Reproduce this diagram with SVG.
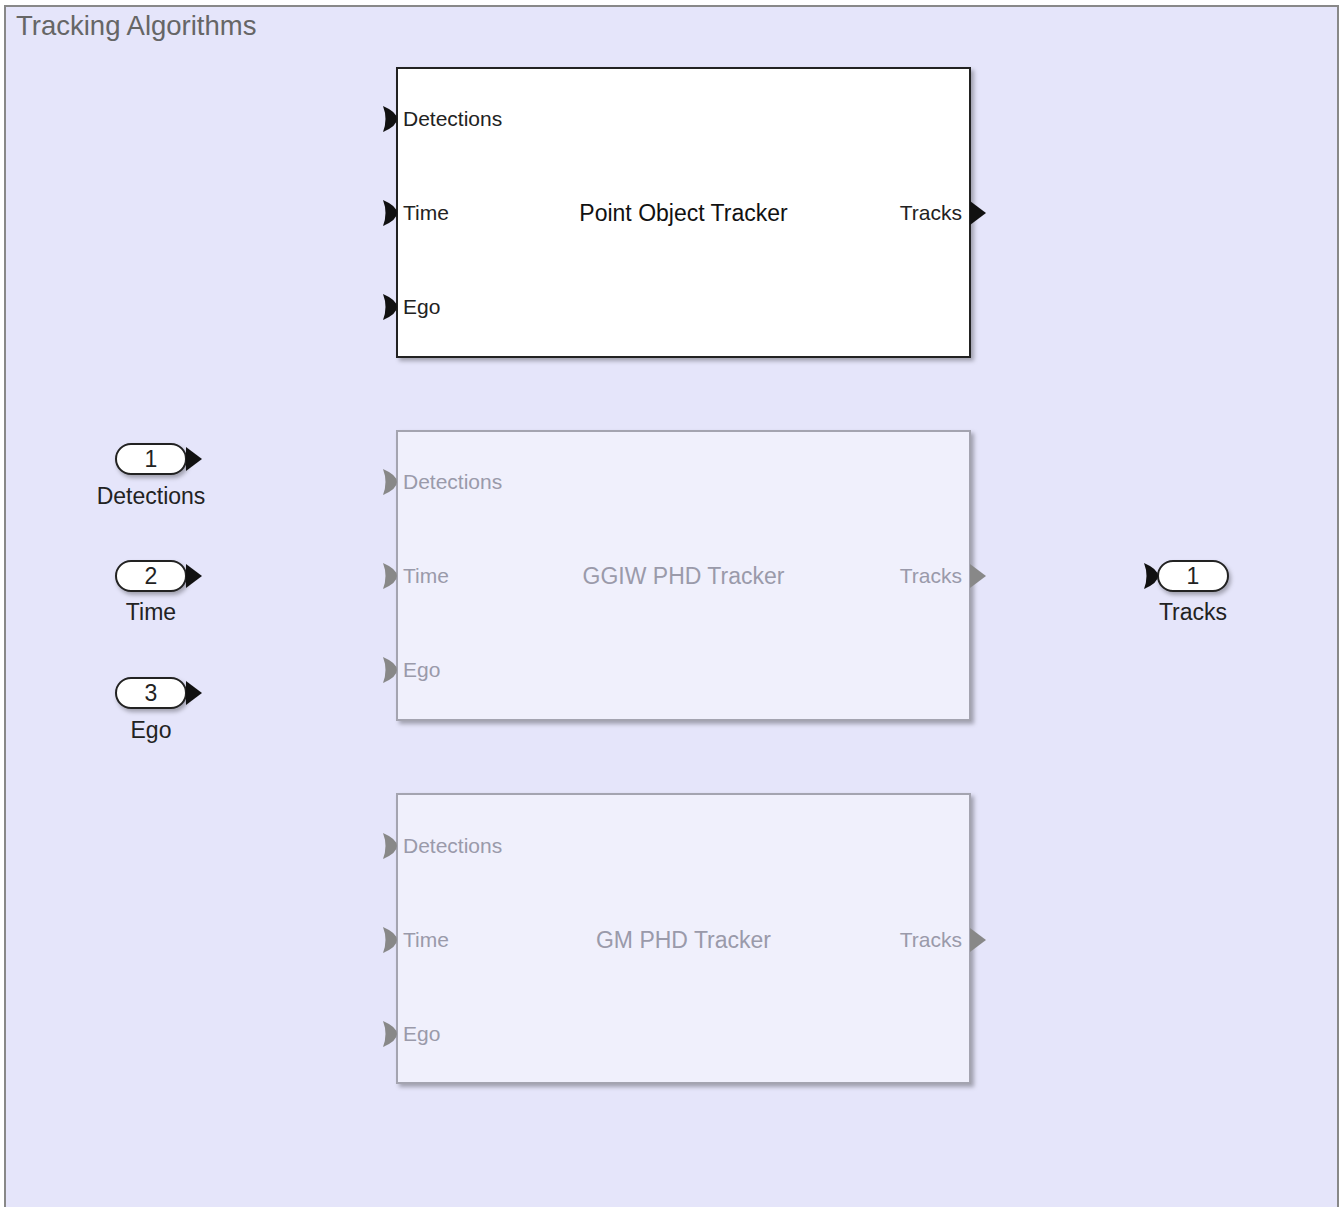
<svg xmlns="http://www.w3.org/2000/svg" width="1341" height="1207" viewBox="0 0 1341 1207">
<defs>
<filter id="sh" x="-5%" y="-5%" width="115%" height="115%">
<feDropShadow dx="3" dy="3" stdDeviation="2" flood-color="#000" flood-opacity="0.3"/>
</filter>
<filter id="sh2" x="-20%" y="-20%" width="150%" height="160%">
<feDropShadow dx="2" dy="3" stdDeviation="2" flood-color="#000" flood-opacity="0.3"/>
</filter>
<path id="chev" d="M-14,-13 Q0,-7 0,0 Q0,7 -14,13 Q-9,0 -14,-13 Z"/>
<path id="tri" d="M0,-12 L16,0 L0,12 Z"/>
</defs>
<style>
text{font-family:"Liberation Sans",Arial,sans-serif;}
.title{font-size:27.5px;fill:#666;}
.pl{font-size:21px;fill:#222;}
.nm{font-size:23px;fill:#111;}
.gpl{font-size:21px;fill:#9a9aaa;}
.gnm{font-size:23px;fill:#9a9aaa;}
.lbl{font-size:23px;fill:#222;text-anchor:middle;}
.act{fill:#fff;stroke:#222;stroke-width:2;}
.dis{fill:#f0f0fc;stroke:#a4a4b0;stroke-width:2;}
.oval{fill:#fff;stroke:#222;stroke-width:2;}
</style>
<rect x="5" y="6" width="1333" height="1210" fill="#e5e5fa" stroke="#888" stroke-width="2"/>
<text class="title" x="16" y="35">Tracking Algorithms</text>

<g id="connectors"></g>

<g id="point-object-tracker">
<rect class="act" x="397" y="68" width="573" height="289" filter="url(#sh)"/>
<use href="#chev" x="397" y="119" fill="#111"/>
<use href="#chev" x="397" y="213" fill="#111"/>
<use href="#chev" x="397" y="307" fill="#111"/>
<use href="#tri" x="970" y="213" fill="#111"/>
<text class="pl" x="403" y="126">Detections</text>
<text class="pl" x="403" y="220">Time</text>
<text class="pl" x="403" y="314">Ego</text>
<text class="pl" x="962" y="220" text-anchor="end">Tracks</text>
<text class="nm" x="683.5" y="221" text-anchor="middle">Point Object Tracker</text>
</g>

<g id="ggiw-phd-tracker">
<rect class="dis" x="397" y="431" width="573" height="289" filter="url(#sh)"/>
<use href="#chev" x="397" y="482" fill="#888"/>
<use href="#chev" x="397" y="576" fill="#888"/>
<use href="#chev" x="397" y="670" fill="#888"/>
<use href="#tri" x="970" y="576" fill="#888"/>
<text class="gpl" x="403" y="489">Detections</text>
<text class="gpl" x="403" y="583">Time</text>
<text class="gpl" x="403" y="677">Ego</text>
<text class="gpl" x="962" y="583" text-anchor="end">Tracks</text>
<text class="gnm" x="683.5" y="584" text-anchor="middle">GGIW PHD Tracker</text>
</g>

<g id="gm-phd-tracker">
<rect class="dis" x="397" y="794" width="573" height="289" filter="url(#sh)"/>
<use href="#chev" x="397" y="846" fill="#888"/>
<use href="#chev" x="397" y="940" fill="#888"/>
<use href="#chev" x="397" y="1034" fill="#888"/>
<use href="#tri" x="970" y="940" fill="#888"/>
<text class="gpl" x="403" y="853">Detections</text>
<text class="gpl" x="403" y="947">Time</text>
<text class="gpl" x="403" y="1041">Ego</text>
<text class="gpl" x="962" y="947" text-anchor="end">Tracks</text>
<text class="gnm" x="683.5" y="948" text-anchor="middle">GM PHD Tracker</text>
</g>

<g id="inport-1">
<rect class="oval" x="116" y="444" width="70" height="30" rx="15" filter="url(#sh2)"/>
<use href="#tri" x="186" y="459" fill="#111"/>
<text class="lbl" x="151" y="467">1</text>
<text class="lbl" x="151" y="504">Detections</text>
</g>
<g id="inport-2">
<rect class="oval" x="116" y="561" width="70" height="30" rx="15" filter="url(#sh2)"/>
<use href="#tri" x="186" y="576" fill="#111"/>
<text class="lbl" x="151" y="584">2</text>
<text class="lbl" x="151" y="620">Time</text>
</g>
<g id="inport-3">
<rect class="oval" x="116" y="678" width="70" height="30" rx="15" filter="url(#sh2)"/>
<use href="#tri" x="186" y="693" fill="#111"/>
<text class="lbl" x="151" y="701">3</text>
<text class="lbl" x="151" y="738">Ego</text>
</g>
<g id="outport-1">
<rect class="oval" x="1158" y="561" width="70" height="30" rx="15" filter="url(#sh2)"/>
<use href="#chev" x="1158" y="576" fill="#111"/>
<text class="lbl" x="1193" y="584">1</text>
<text class="lbl" x="1193" y="620">Tracks</text>
</g>
</svg>
